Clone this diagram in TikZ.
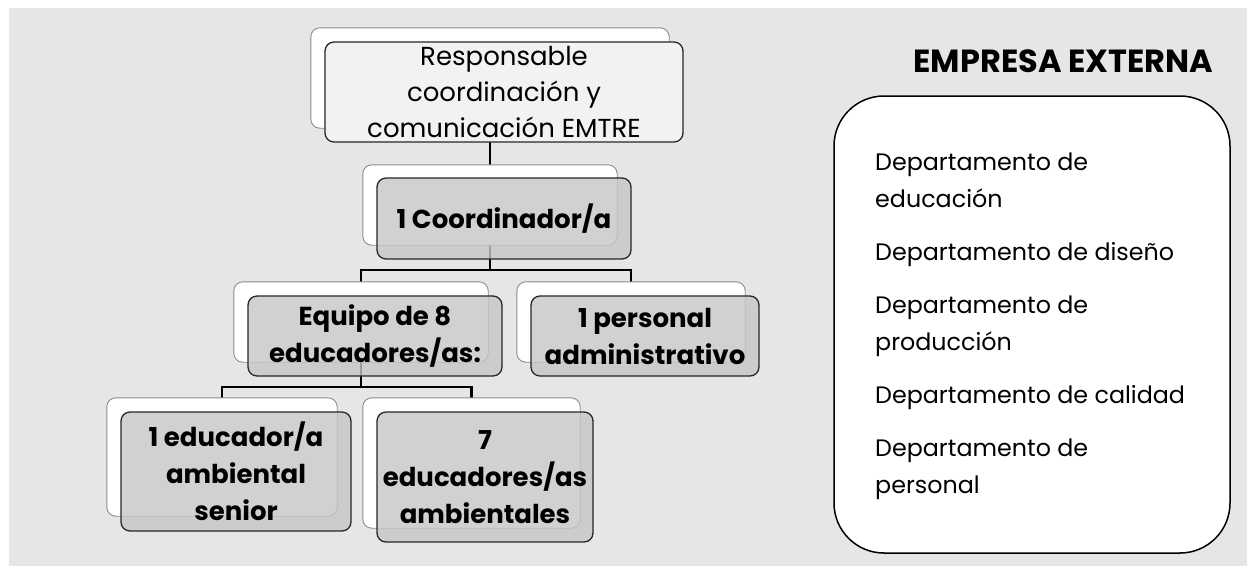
\documentclass[tikz,border=0pt]{standalone}
\usepackage{fontspec}
\setmainfont{Poppins}
\definecolor{bg}{HTML}{E6E6E6}
\definecolor{frontgray}{HTML}{C6C6C6}
\definecolor{topfill}{HTML}{F2F2F2}
\begin{document}
\begin{tikzpicture}[x=1pt,y=-1pt,
  backbox/.style={draw=black!45, fill=white, rounded corners=9pt, line width=0.9pt, inner sep=0pt},
  frontbox/.style={draw=black!85, fill=frontgray, fill opacity=0.8, text opacity=1, rounded corners=9pt, line width=1.3pt, inner sep=0pt, align=center, font=\bfseries\fontsize{26}{37}\selectfont},
  topbox/.style={draw=black!85, fill=topfill, rounded corners=9pt, line width=1.3pt, inner sep=0pt, align=center, font=\fontsize{26}{36}\selectfont},
  conn/.style={line width=2.6pt, black}
]
\useasboundingbox (0,0) rectangle (1247,566);
\fill[white] (0,0) rectangle (1247,566);
\fill[bg] (9,8) rectangle (1247,566);

% back boxes (positions only, drawn later)
\path
  node[minimum width=358, minimum height=100] (topback) at (490,78) {}
  node[minimum width=254, minimum height=80] (coordback) at (490,205) {}
  node[minimum width=254, minimum height=80] (equipoback) at (361,322) {}
  node[minimum width=228, minimum height=80] (persback) at (631,322) {}
  node[minimum width=230, minimum height=118] (seniorback) at (222,457) {}
  node[minimum width=217, minimum height=130] (sieteback) at (471.5,463) {};

% connectors
\coordinate (bus1) at (490,270);
\coordinate (bus2) at (361,387);
\draw[conn] (topback.center) -- (coordback.center);
\draw[conn] (coordback.center) -- (bus1);
\draw[conn] (equipoback.center) |- (bus1) -| (persback.center);
\draw[conn] (equipoback.center) -- (bus2);
\draw[conn] (seniorback.center) |- (bus2) -| (sieteback.center);

% back boxes
\foreach \n in {topback,coordback,equipoback,persback,seniorback,sieteback}{
  \draw[backbox] (\n.north west) rectangle (\n.south east);
}

% front boxes
\node[topbox, minimum width=358, minimum height=100] (top) at (504,92)
  {Responsable\\coordinación y\\comunicación EMTRE};
\node[frontbox, minimum width=254, minimum height=81] (coord) at (504,218.5)
  {1 Coordinador/a};
\node[frontbox, minimum width=254, minimum height=80] (equipo) at (375,336)
  {Equipo de 8\\educadores/as:};
\node[frontbox, minimum width=228, minimum height=80] (pers) at (645,336)
  {1 personal\\administrativo};
\node[frontbox, minimum width=230, minimum height=119] (senior) at (236,471.5)
  {1 educador/a\\ambiental\\senior};
\node[frontbox, minimum width=216, minimum height=130] (siete) at (485,477)
  {7\\educadores/as\\ambientales};

% external company
\node[font=\bfseries\fontsize{32}{35}\selectfont, anchor=base] (title) at (1063.5,72) {EMPRESA EXTERNA};
\node[draw=black, fill=white, line width=1.5pt, rounded corners=50pt,
      minimum width=396, minimum height=457] (ext) at (1032,324.5) {};
\node[anchor=west, inner sep=0pt, align=left, font=\fontsize{23.8}{37}\selectfont] (deps) at (875,326)
  {Departamento de\\educación\\[16pt]
   Departamento de diseño\\[16pt]
   Departamento de\\producción\\[16pt]
   Departamento de calidad\\[16pt]
   Departamento de\\personal};
\end{tikzpicture}
\end{document}
